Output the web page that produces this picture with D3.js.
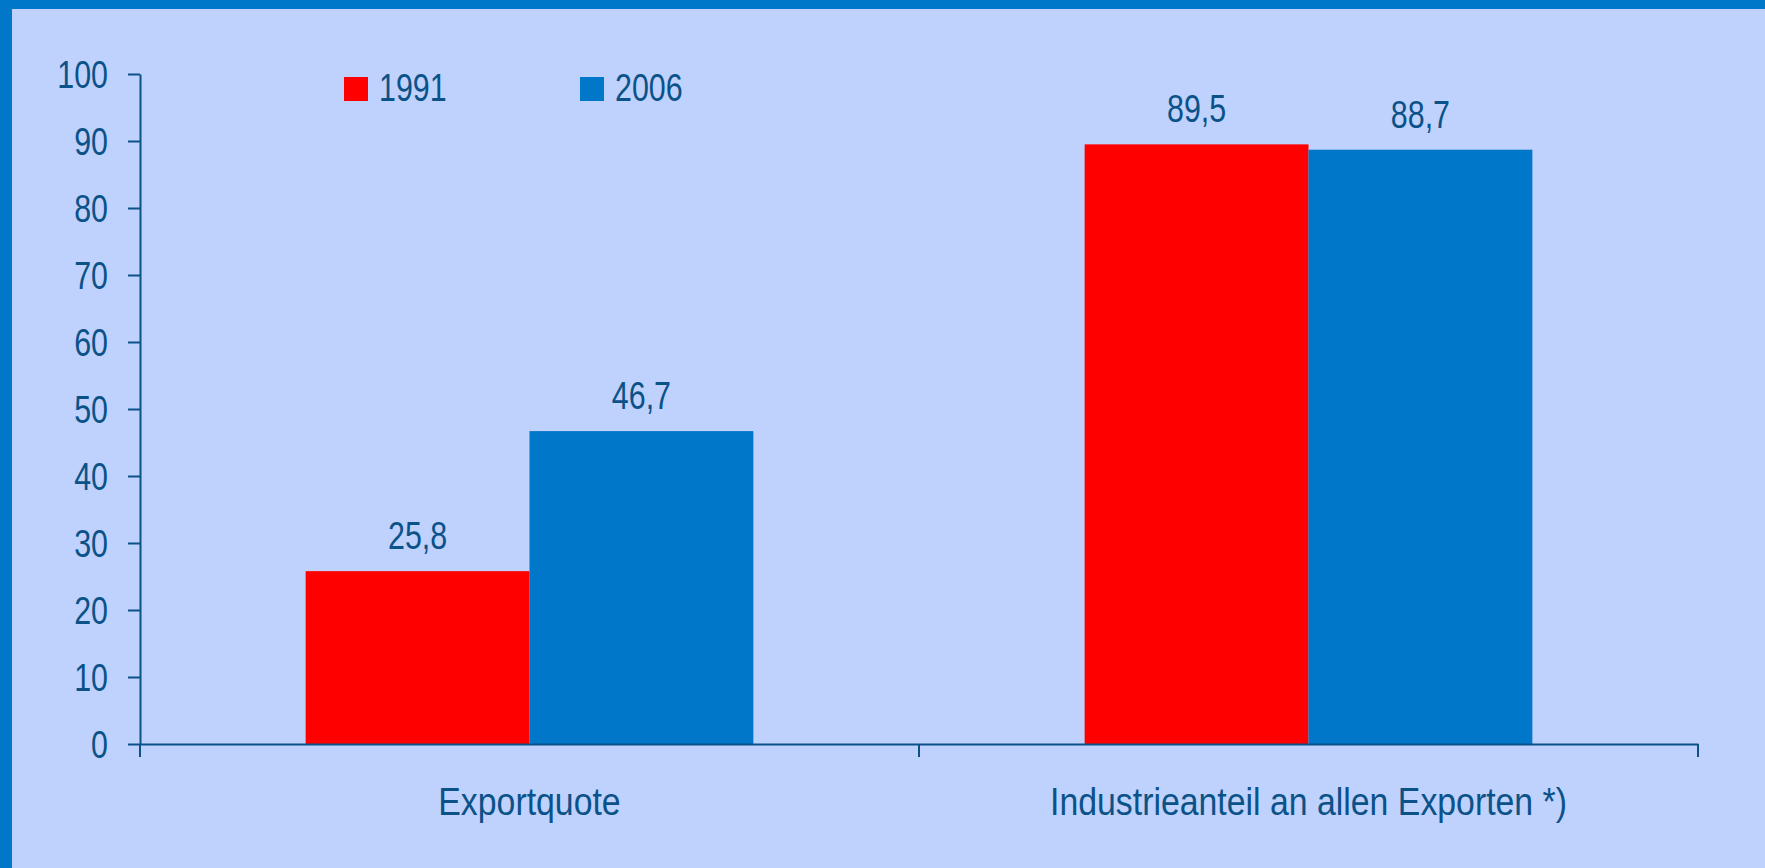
<!DOCTYPE html>
<html>
<head>
<meta charset="utf-8">
<script src="https://cdn.jsdelivr.net/npm/d3@7"></script>
<style>
  html, body { margin: 0; padding: 0; background: #0077c8; }
  svg { display: block; }
  text { font-family: "Liberation Sans Narrow", "Arial Narrow", "Liberation Sans", sans-serif; fill: #0b5288; }
</style>
</head>
<body>
<div id="chart"></div>
<script>
// Werte aus der Grafik
const categories = ["Exportquote", "Industrieanteil an allen Exporten *)"];
const years = ["1991", "2006"];
const values1991 = [25.8, 89.5];
const values2006 = [46.7, 88.7];
const yTicks = [0, 10, 20, 30, 40, 50, 60, 70, 80, 90, 100];

const W = 1765, H = 868,
      margin = { top: 74, right: 67, bottom: 124, left: 140 },
      width = W - margin.left - margin.right,
      height = H - margin.top - margin.bottom,
      colors = { "1991": "#ff0000", "2006": "#0077c8" },
      ink = "#0b5288",
      fontSize = 38,
      // schmale Schrift nachbilden
      sxNum = 0.8,
      sxLab = 0.89;

const rows = categories.map((c, i) => ({ cat: c, vals: [
  { year: years[0], v: values1991[i] },
  { year: years[1], v: values2006[i] }
]}));

const svg = d3.select("#chart").append("svg")
    .attr("width", W)
    .attr("height", H);

// Rahmen oben und links, Rest hellblau
svg.append("rect")
    .attr("x", 12).attr("y", 9)
    .attr("width", W - 12).attr("height", H - 9)
    .attr("fill", "#bfd1fd");

const g = svg.append("g")
    .attr("transform", `translate(${margin.left},${margin.top})`);

const x0 = d3.scaleBand().domain(categories).range([0, width]).padding(0);
const x1 = d3.scaleBand().domain(years).range([0, x0.bandwidth()])
    .paddingInner(0).paddingOuter(0.74);
const y = d3.scaleLinear().domain([0, 100]).range([height, 0]);

// Balken
const groups = g.selectAll(".grp")
  .data(rows)
  .enter().append("g")
    .attr("class", "grp")
    .attr("transform", d => `translate(${x0(d.cat)},0)`);

groups.selectAll("rect")
  .data(d => d.vals)
  .enter().append("rect")
    .attr("x", d => x1(d.year))
    .attr("y", d => y(d.v))
    .attr("width", x1.bandwidth())
    .attr("height", d => height - y(d.v))
    .attr("fill", d => colors[d.year]);

groups.selectAll(".val")
  .data(d => d.vals)
  .enter().append("text")
    .attr("class", "val")
    .attr("transform", d => `translate(${x1(d.year) + x1.bandwidth() / 2},${y(d.v) - 22}) scale(${sxNum},1)`)
    .attr("text-anchor", "middle")
    .style("font-size", fontSize + "px")
    .text(d => d3.format(".1f")(d.v).replace(".", ","));

// Y-Achse
const yAxis = g.append("g")
    .call(d3.axisLeft(y).tickValues(yTicks).tickSize(12).tickPadding(20).tickSizeOuter(0));
yAxis.select(".domain").attr("stroke", ink).attr("stroke-width", 2);
yAxis.selectAll(".tick line").attr("stroke", ink).attr("stroke-width", 2);
yAxis.selectAll(".tick text")
    .style("font-size", fontSize + "px")
    .style("font-family", null)
    .attr("fill", ink)
    .attr("x", -32 / sxNum)
    .attr("transform", `scale(${sxNum},1)`)
    .attr("dy", "0.35em");

// X-Achse mit Trennstrichen an den Kategoriegrenzen
const xAxis = g.append("g")
    .attr("transform", `translate(0,${height})`)
    .call(d3.axisBottom(x0).tickSize(0).tickPadding(44));
xAxis.select(".domain").attr("stroke", ink).attr("stroke-width", 2);
xAxis.selectAll(".tick text")
    .style("font-size", fontSize + "px")
    .style("font-family", null)
    .attr("fill", ink)
    .attr("transform", `scale(${sxLab},1)`)
    .attr("dy", "0.71em");

const bounds = [0].concat(categories.map(c => x0(c) + x0.bandwidth()));
xAxis.selectAll(".sep")
  .data(bounds)
  .enter().append("line")
    .attr("class", "sep")
    .attr("x1", d => d).attr("x2", d => d)
    .attr("y1", 0).attr("y2", 13)
    .attr("stroke", ink).attr("stroke-width", 2);

// Legende
const legend = svg.selectAll(".legend")
  .data(years)
  .enter().append("g")
    .attr("class", "legend")
    .attr("transform", (d, i) => `translate(${344 + i * 236},77)`);

legend.append("rect")
    .attr("width", 24).attr("height", 24)
    .attr("fill", d => colors[d]);

legend.append("text")
    .attr("transform", `translate(35,24) scale(${sxNum},1)`)
    .style("font-size", fontSize + "px")
    .text(d => d);
</script>
</body>
</html>
